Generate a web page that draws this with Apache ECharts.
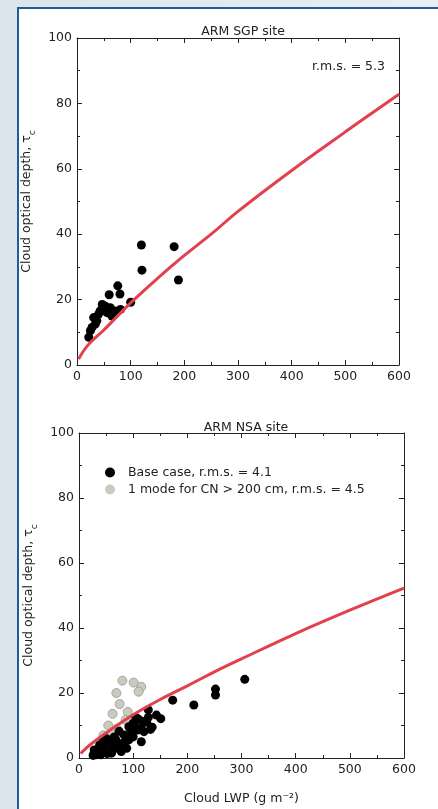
<!DOCTYPE html>
<html>
<head>
<meta charset="utf-8">
<script src="https://cdn.jsdelivr.net/npm/echarts@6/dist/echarts.min.js"></script>
<style>
  html, body { margin: 0; padding: 0; }
  body { width: 438px; height: 809px; background: linear-gradient(90deg, #dce4ec 0%, #e8eef4 100%); position: relative; overflow: hidden; }
  #frame { position: absolute; left: 17px; top: 7px; right: 0; bottom: 0; background: #fff; border-left: 2px solid #1f5c99; border-top: 2px solid #1f5c99; }
  #chart { position: absolute; left: 0; top: 0; width: 438px; height: 809px; }
</style>
</head>
<body>
<div id="frame"></div>
<div id="chart"></div>
<script>
// fitted curve (LWP in g m-2)
var fitLwp = [3, 20, 50, 100, 150, 200, 250, 300, 400, 500, 600];
var sgpFit = [1.8, 6, 10.7, 19, 26.5, 33.5, 40, 47, 59.5, 71.3, 82.8];
var nsaFit = [1.4, 4, 7.7, 13.3, 18, 22.2, 26.5, 30.5, 38.3, 45.5, 52.3];

// ARM SGP observations [LWP, tau]
var sgpObs = [
  [22, 8.5], [25, 10.5], [28, 11.5], [31, 14.5], [34, 12.5], [37, 13.5],
  [40, 15.5], [43, 16.5], [47, 18.5], [50, 17], [53, 18], [56, 16],
  [60, 21.5], [62, 17.5], [65, 15], [70, 16.5], [76, 24.2], [80, 21.7],
  [81, 17], [100, 19.2], [120, 36.7], [121, 29], [181, 36.2], [189, 26]
];

// ARM NSA, 1 mode for CN > 200 cm
var nsaMode = [
  [80, 23.8], [101, 23.2], [115, 21.9], [69, 20], [110, 20.4], [75, 16.6],
  [62, 13.6], [90, 14.2], [54, 10], [86, 11.7], [45, 7], [70, 9],
  [100, 9.5], [60, 8]
];

// ARM NSA, base case
var nsaBase = [
  [252, 21.2], [252, 19.4], [306, 24.2], [212, 16.3], [173, 17.8], [128, 14.8],
  [143, 13.2], [151, 12.1], [110, 11.9], [118, 11.2], [100, 10.7], [105, 9.5],
  [132, 8.8], [120, 8.1], [108, 8.6], [92, 9.6], [83, 7.1], [92, 5.6],
  [80, 4.5], [68, 5.6], [74, 8.2], [62, 3.5], [49, 3.7], [43, 2.5],
  [34, 2], [31, 1], [28, 2.5], [40, 1], [52, 1.4], [56, 5], [60, 1.5],
  [70, 3], [88, 3], [38, 4], [45, 5.5], [125, 11], [100, 6.5], [115, 5],
  [78, 2], [26, 0.8], [115, 9], [128, 12.5], [135, 9.5], [95, 8],
  [105, 12.5], [65, 6.5], [85, 5], [50, 6]
];

var xTicks = [0, 100, 200, 300, 400, 500, 600];
var yTicks = [0, 20, 40, 60, 80, 100];

var font = 'DejaVu Sans, Arial, sans-serif';
var fs = 12.5;
var ink = '#222';

function fitPairs(vals) {
  return fitLwp.map(function (x, i) { return [x, vals[i]]; });
}

function xAx(grid, pos, labels, name) {
  return {
    type: 'value', gridIndex: grid, position: pos,
    min: xTicks[0], max: xTicks[xTicks.length - 1], interval: 100,
    axisLine: { show: true, onZero: false, lineStyle: { color: ink, width: 1 } },
    axisTick: { show: true, inside: true, length: 5, lineStyle: { color: ink } },
    minorTick: { show: true, splitNumber: 2, length: 3, lineStyle: { color: ink } },
    axisLabel: { show: labels, color: ink, fontFamily: font, fontSize: fs, margin: 5 },
    splitLine: { show: false },
    name: name || '', nameLocation: 'middle', nameGap: 34,
    nameTextStyle: { color: ink, fontFamily: font, fontSize: fs }
  };
}

function yAx(grid, pos, labels, name) {
  return {
    type: 'value', gridIndex: grid, position: pos,
    min: yTicks[0], max: yTicks[yTicks.length - 1], interval: 20,
    axisLine: { show: true, onZero: false, lineStyle: { color: ink, width: 1 } },
    axisTick: { show: true, inside: true, length: 5, lineStyle: { color: ink } },
    minorTick: { show: true, splitNumber: 2, length: 3, lineStyle: { color: ink } },
    axisLabel: { show: labels, color: ink, fontFamily: font, fontSize: fs, margin: 5 },
    splitLine: { show: false },
    name: name ? 'Cloud optical depth, τ{sub|c}' : '', nameLocation: 'middle', nameGap: 41, nameRotate: 90,
    nameTextStyle: {
      color: ink, fontFamily: font, fontSize: fs,
      rich: { sub: { fontSize: 9, fontFamily: font, color: ink, verticalAlign: 'bottom', padding: [0, 0, -4, 0] } }
    }
  };
}

var myChart = echarts.init(document.getElementById('chart'), null, { renderer: 'canvas' });

var option = {
  backgroundColor: 'transparent',
  animation: false,
  title: [
    { text: 'ARM SGP site', left: 238, top: 20, textAlign: 'center',
      textStyle: { fontFamily: font, fontSize: fs, fontWeight: 'normal', color: ink } },
    { text: 'ARM NSA site', left: 241, top: 416, textAlign: 'center',
      textStyle: { fontFamily: font, fontSize: fs, fontWeight: 'normal', color: ink } }
  ],
  graphic: [
    { type: 'text', right: 438 - 385, top: 60,
      style: { text: 'r.m.s. = 5.3', fontFamily: font, fontSize: fs, fill: ink } }
  ],
  legend: {
    orient: 'vertical', left: 100, top: 461, itemGap: 4,
    itemWidth: 10, itemHeight: 10,
    data: [
      { name: 'Base case, r.m.s. = 4.1' },
      { name: '1 mode for CN > 200 cm, r.m.s. = 4.5', itemStyle: { borderWidth: 0 } }
    ],
    textStyle: { fontFamily: font, fontSize: fs, color: ink, padding: [0, 0, 0, 8] }
  },
  grid: [
    { left: 77, top: 38, width: 322, height: 327 },
    { left: 79, top: 433, width: 325, height: 325 }
  ],
  xAxis: [
    xAx(0, 'bottom', true),
    xAx(0, 'top', false),
    xAx(1, 'bottom', true, 'Cloud LWP (g m⁻²)'),
    xAx(1, 'top', false)
  ],
  yAxis: [
    yAx(0, 'left', true, true),
    yAx(0, 'right', false),
    yAx(1, 'left', true, true),
    yAx(1, 'right', false)
  ],
  series: [
    {
      name: 'SGP observations', type: 'scatter', xAxisIndex: 0, yAxisIndex: 0,
      symbol: 'circle', symbolSize: 9, itemStyle: { color: '#000', opacity: 1 },
      data: sgpObs
    },
    {
      name: 'SGP fit', type: 'line', xAxisIndex: 0, yAxisIndex: 0, z: 5,
      smooth: 0.4, showSymbol: false,
      lineStyle: { color: '#e2404c', width: 3 },
      data: fitPairs(sgpFit)
    },
    {
      name: '1 mode for CN > 200 cm, r.m.s. = 4.5', type: 'scatter', xAxisIndex: 2, yAxisIndex: 2,
      symbol: 'circle', symbolSize: 9,
      itemStyle: { color: '#c9cac0', borderColor: '#a4a698', borderWidth: 1, opacity: 1 },
      data: nsaMode
    },
    {
      name: 'Base case, r.m.s. = 4.1', type: 'scatter', xAxisIndex: 2, yAxisIndex: 2,
      symbol: 'circle', symbolSize: 9, itemStyle: { color: '#000', opacity: 1 },
      data: nsaBase
    },
    {
      name: 'NSA fit', type: 'line', xAxisIndex: 2, yAxisIndex: 2, z: 5,
      smooth: 0.4, showSymbol: false,
      lineStyle: { color: '#e2404c', width: 3 },
      data: fitPairs(nsaFit)
    }
  ]
};

myChart.setOption(option);
</script>
</body>
</html>
